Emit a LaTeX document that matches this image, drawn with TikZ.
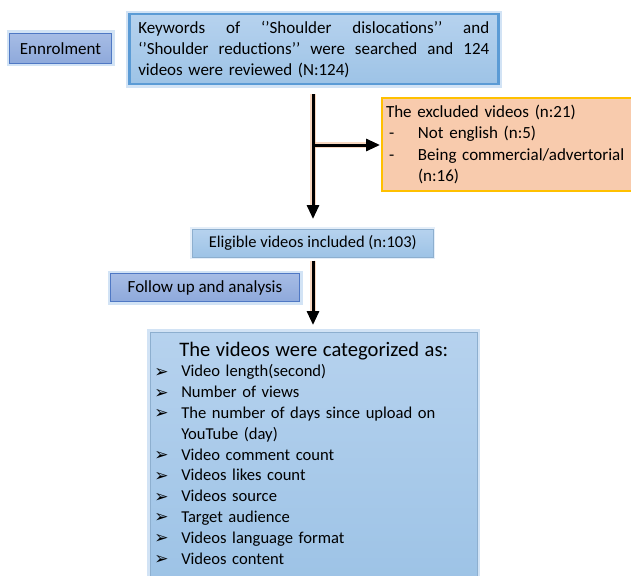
\documentclass[tikz,border=0pt]{standalone}
\usepackage{fontspec}
\setmainfont{Carlito}
\newfontfamily\djv{DejaVu Sans}
\usetikzlibrary{arrows.meta}
\definecolor{enrF}{HTML}{8EA9DB}
\definecolor{enrT}{HTML}{A6BCE5}
\definecolor{enrB}{HTML}{4F78C4}
\definecolor{kwF}{HTML}{9DC3E6}
\definecolor{kwT}{HTML}{B6D2EE}
\definecolor{kwB}{HTML}{5B9BD5}
\definecolor{exF}{HTML}{F8CBAD}
\definecolor{exB}{HTML}{FFC000}
\definecolor{glowB}{HTML}{D2E3F5}
\definecolor{glowO}{HTML}{F4B183}
\newcommand\bl{\makebox[28pt][l]{\hspace*{1pt}\raisebox{-0.5pt}{\djv\fontsize{17}{17}\selectfont ➢}}}
\newcommand\jline[1]{\leavevmode\hbox to 351pt{#1}}
\tikzset{
  darkbox/.style={draw=enrB, line width=1pt, top color=enrT, bottom color=enrF,
     anchor=north west, inner sep=0pt, font=\fontsize{17}{20}\selectfont,
     preaction={draw=glowB, line width=6pt}},
  lightbox/.style={top color=kwT, bottom color=kwF, anchor=north west, inner sep=0pt,
     font=\fontsize{17}{21}\selectfont},
  arr/.style={line width=3pt, -{Triangle[length=14pt,width=12pt]}},
  glow/.style={line width=6pt, draw=glowO, opacity=0.5},
}
\begin{document}
\begin{tikzpicture}[x=1pt,y=-1pt]
\useasboundingbox (0,0) rectangle (631,575);
% Enrolment
\node[darkbox, minimum width=102pt, minimum height=30pt] (enr) at (9,33) {Ennrolment};
% Keywords
\node[lightbox, draw=kwB, line width=2.5pt, minimum width=369pt, minimum height=70pt,
      text width=351pt, align=left, preaction={draw=glowB, line width=7pt}] (kw) at (128,13)
  {\jline{Keywords\hfill of\hfill ‘’Shoulder\hfill dislocations’’\hfill and}\\
   \jline{‘’Shoulder\hfill reductions’’\hfill were\hfill searched\hfill and\hfill 124}\\
   videos were reviewed (N:124)};
% Excluded
\node[draw=exB, line width=2pt, fill=exF, anchor=north west, minimum width=252pt, minimum height=93pt,
      inner sep=0pt, text width=244pt, align=left, font=\fontsize{17}{21.3}\selectfont] (ex) at (381,97)
  {The excluded videos (n:21)\\
   \makebox[32pt][l]{\hspace*{3pt}-}Not english (n:5)\\
   \makebox[32pt][l]{\hspace*{3pt}-}Being commercial/advertorial\\
   \hspace*{32pt}(n:16)};
% Eligible
\node[lightbox, draw=kwF!90!black, line width=0.5pt, minimum width=241pt, minimum height=28pt,
      font=\fontsize{16.5}{20}\selectfont,
      preaction={draw=glowB!60, line width=4pt}] (el) at (192,229)
  {Eligible videos included (n:103)};
% Follow up
\node[darkbox, minimum width=189pt, minimum height=28pt] (fu) at (110,273) {Follow up and analysis};
% Categorized
\node[lightbox, draw=kwF!90!black, line width=0.5pt, minimum width=327pt, minimum height=250pt,
      text width=321pt, align=left, font=\fontsize{16.6}{20.8}\selectfont,
      preaction={draw=glowB, line width=6pt}] (cat) at (150,332)
  {\hspace*{26pt}{\fontsize{20.6}{22}\selectfont The videos were categorized as:}\\
   \bl Video length(second)\\
   \bl Number of views\\
   \bl The number of days since upload on\\
   \hspace*{28pt}YouTube (day)\\
   \bl Video comment count\\
   \bl Videos likes count\\
   \bl Videos source\\
   \bl Target audience\\
   \bl Videos language format\\
   \bl Videos content\\[-12pt]\mbox{}};
% arrows
\coordinate (ax) at (313,0);
\coordinate (br) at (313,145);
\draw[glow, shorten <=9pt, shorten >=16pt] (kw.south -| ax) -- (el.north -| ax);
\draw[glow, shorten >=6pt] (br) -- (ex.west |- br);
\draw[glow, shorten <=3pt, shorten >=12pt] (el.south -| ax) -- (cat.north -| ax);
\draw[arr, shorten <=9pt, shorten >=10pt] (kw.south -| ax) -- (el.north -| ax);
\draw[arr, shorten >=1pt] (br) -- (ex.west |- br);
\draw[arr, shorten <=3pt, shorten >=7pt] (el.south -| ax) -- (cat.north -| ax);
\end{tikzpicture}
\end{document}
